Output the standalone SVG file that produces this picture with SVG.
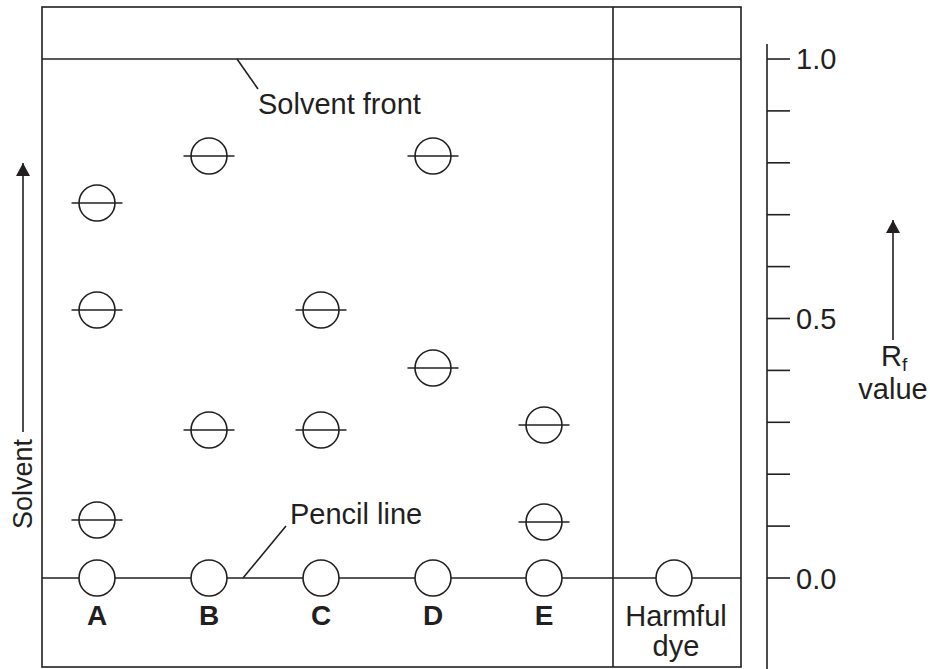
<svg xmlns="http://www.w3.org/2000/svg" width="930" height="669" viewBox="0 0 930 669">
  <style>
    .ln{stroke:#231f20;stroke-width:1.6;fill:none}
    .spot{stroke:#231f20;stroke-width:1.6;fill:#fff}
    .t{font-family:"Liberation Sans",Arial,sans-serif;font-size:29px;fill:#231f20}
    .b{font-family:"Liberation Sans",Arial,sans-serif;font-size:28px;font-weight:bold;fill:#231f20;text-anchor:middle}
  </style>
  <defs>
    <marker id="ah" markerWidth="14" markerHeight="14" refX="13" refY="7" orient="auto" markerUnits="userSpaceOnUse">
      <path d="M0,0 L13,7 L0,14 Z" fill="#231f20"/>
    </marker>
    <g id="dot">
      <circle cx="0" cy="0" r="18" class="spot"/>
      <line x1="-25.5" y1="0" x2="25.5" y2="0" class="ln"/>
    </g>
  </defs>
  <rect width="930" height="669" fill="#fff"/>

  <g id="plate">
    <rect x="42" y="7" width="699" height="660" class="ln"/>
    <line x1="613" y1="7" x2="613" y2="667" class="ln"/>
    <line x1="42" y1="59" x2="741" y2="59" class="ln"/>
    <line x1="42" y1="578" x2="741" y2="578" class="ln"/>
  </g>

  <g id="connectors">
    <line x1="237" y1="59" x2="258" y2="89" class="ln"/>
    <line x1="243" y1="578" x2="286" y2="526" class="ln"/>
    <line x1="23" y1="432" x2="23" y2="163" class="ln" marker-end="url(#ah)"/>
    <line x1="893" y1="340" x2="893" y2="220" class="ln" marker-end="url(#ah)"/>
  </g>

  <g id="labels">
    <text class="t" x="258" y="114">Solvent front</text>
    <text class="t" x="290" y="524">Pencil line</text>
    <text class="t" style="font-size:27px" transform="translate(32,529) rotate(-90)">Solvent</text>
  </g>

  <g id="lane-A">
    <use href="#dot" x="97" y="203"/>
    <use href="#dot" x="97" y="310"/>
    <use href="#dot" x="97" y="520"/>
    <circle cx="97" cy="578" r="18" class="spot"/>
    <text class="b" x="97" y="625">A</text>
  </g>
  <g id="lane-B">
    <use href="#dot" x="209" y="156"/>
    <use href="#dot" x="209" y="430"/>
    <circle cx="209" cy="578" r="18" class="spot"/>
    <text class="b" x="209" y="625">B</text>
  </g>
  <g id="lane-C">
    <use href="#dot" x="321" y="310"/>
    <use href="#dot" x="321" y="430"/>
    <circle cx="321" cy="578" r="18" class="spot"/>
    <text class="b" x="321" y="625">C</text>
  </g>
  <g id="lane-D">
    <use href="#dot" x="433" y="156"/>
    <use href="#dot" x="433" y="368"/>
    <circle cx="433" cy="578" r="18" class="spot"/>
    <text class="b" x="433" y="625">D</text>
  </g>
  <g id="lane-E">
    <use href="#dot" x="544" y="425"/>
    <use href="#dot" x="544" y="522"/>
    <circle cx="544" cy="578" r="18" class="spot"/>
    <text class="b" x="544" y="625">E</text>
  </g>
  <g id="harmful-dye">
    <circle cx="674" cy="578" r="18" class="spot"/>
    <text class="t" x="676" y="626" text-anchor="middle">Harmful</text>
    <text class="t" x="676" y="656" text-anchor="middle">dye</text>
  </g>

  <g id="scale">
    <line x1="767" y1="44" x2="767" y2="669" class="ln"/>
    <line x1="767" y1="59" x2="790" y2="59" class="ln"/>
    <line x1="767" y1="110.9" x2="790" y2="110.9" class="ln"/>
    <line x1="767" y1="162.8" x2="790" y2="162.8" class="ln"/>
    <line x1="767" y1="214.7" x2="790" y2="214.7" class="ln"/>
    <line x1="767" y1="266.6" x2="790" y2="266.6" class="ln"/>
    <line x1="767" y1="318.5" x2="790" y2="318.5" class="ln"/>
    <line x1="767" y1="370.4" x2="790" y2="370.4" class="ln"/>
    <line x1="767" y1="422.3" x2="790" y2="422.3" class="ln"/>
    <line x1="767" y1="474.2" x2="790" y2="474.2" class="ln"/>
    <line x1="767" y1="526.1" x2="790" y2="526.1" class="ln"/>
    <line x1="767" y1="578" x2="790" y2="578" class="ln"/>
    <text class="t" x="796" y="69">1.0</text>
    <text class="t" x="796" y="329">0.5</text>
    <text class="t" x="796" y="589">0.0</text>
  </g>

  <g id="rf-label">
    <text class="t" x="881" y="366">R<tspan font-size="19" dy="5">f</tspan></text>
    <text class="t" x="893" y="399" text-anchor="middle">value</text>
  </g>
</svg>
